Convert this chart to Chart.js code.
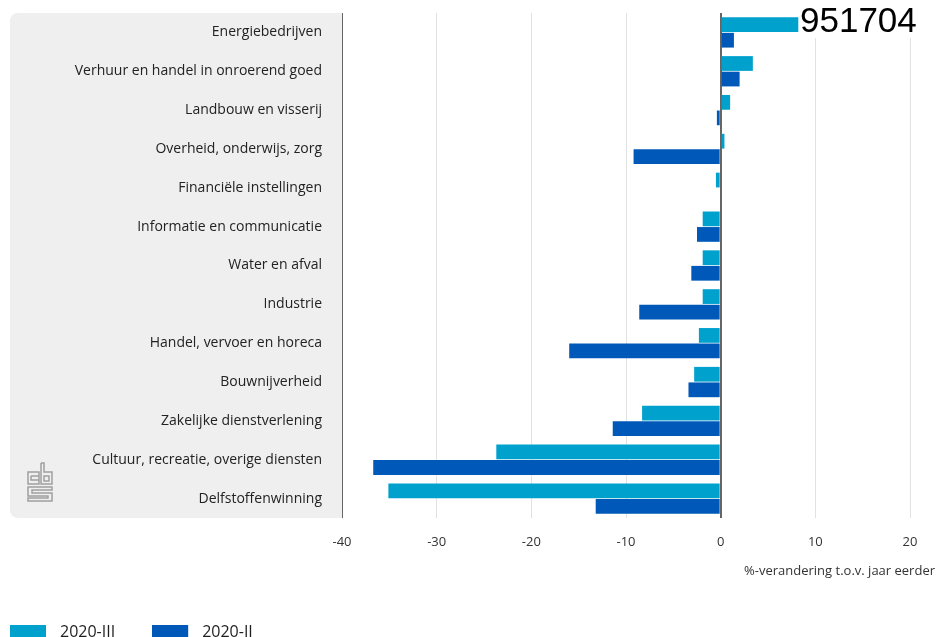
<!DOCTYPE html>
<html>
<head>
<meta charset="utf-8">
<script src="https://cdn.jsdelivr.net/npm/chart.js@4"></script>
<style>
  html, body { margin: 0; padding: 0; background: #fff; overflow: hidden; }
  #wrap { width: 938px; height: 650px; }
</style>
</head>
<body>
<div id="wrap"><canvas id="bedrijfstakken"></canvas></div>
<script>
const categories = [
    'Energiebedrijven',
    'Verhuur en handel in onroerend goed',
    'Landbouw en visserij',
    'Overheid, onderwijs, zorg',
    'Financiële instellingen',
    'Informatie en communicatie',
    'Water en afval',
    'Industrie',
    'Handel, vervoer en horeca',
    'Bouwnijverheid',
    'Zakelijke dienstverlening',
    'Cultuur, recreatie, overige diensten',
    'Delfstoffenwinning'
]
const q2020III = [8.2, 3.4, 1.0, 0.4, -0.5, -1.9, -1.9, -1.9, -2.3, -2.8, -8.3, -23.7, -35.1]
const q2020II = [1.4, 2.0, -0.4, -9.2, 0, -2.5, -3.1, -8.6, -16.0, -3.4, -11.4, -36.7, -13.2]
const xTicks = [-40, -30, -20, -10, 0, 10, 20]

const kleurIII = '#00a1cd'
const kleurII = '#0058b8'
const fontFamily = '"Open Sans", "DejaVu Sans", sans-serif'

// legendablokje 36x14 met wat lucht rechts ervan
function swatch(color) {
    const c = document.createElement('canvas')
    c.width = 42
    c.height = 14
    const g = c.getContext('2d')
    g.fillStyle = color
    g.fillRect(0, 0, 36, 14)
    return c
}
const swatches = [swatch(kleurIII), swatch(kleurII)]

// grijs paneel achter de categorieën + logo, tekst rechtsboven
const decoratie = {
    id: 'decoratie',
    afterLayout(chart) {
        chart.legend.left = -27
    },
    beforeDraw(chart) {
        const ctx = chart.ctx
        const area = chart.chartArea
        ctx.save()
        ctx.fillStyle = '#efefef'
        ctx.beginPath()
        ctx.roundRect(10, area.top, area.left - 10, area.bottom - area.top, [8, 0, 0, 8])
        ctx.fill()

        // cbs logo (ruwe schets)
        ctx.strokeStyle = '#a0a0a0'
        ctx.lineWidth = 1.5
        ctx.beginPath()
        // c
        ctx.rect(28, 472, 11, 12)
        ctx.moveTo(31, 476); ctx.lineTo(39, 476); ctx.moveTo(31, 476); ctx.lineTo(31, 480); ctx.lineTo(39, 480)
        // b
        ctx.moveTo(41, 463); ctx.lineTo(41, 484); ctx.lineTo(52, 484); ctx.lineTo(52, 472); ctx.lineTo(44, 472); ctx.lineTo(44, 463); ctx.lineTo(41, 463)
        ctx.rect(44, 476, 5, 5)
        // s
        ctx.moveTo(52, 487); ctx.lineTo(28, 487); ctx.lineTo(28, 496); ctx.lineTo(48, 496); ctx.lineTo(48, 498); ctx.lineTo(28, 498); ctx.lineTo(28, 501); ctx.lineTo(52, 501); ctx.lineTo(52, 493); ctx.lineTo(32, 493); ctx.lineTo(32, 490); ctx.lineTo(52, 490); ctx.closePath()
        ctx.stroke()
        ctx.restore()
    },
    afterDraw(chart) {
        const ctx = chart.ctx
        ctx.save()
        ctx.fillStyle = '#333'
        ctx.font = '13px ' + fontFamily
        ctx.textAlign = 'right'
        ctx.textBaseline = 'middle'
        ctx.fillText('%-verandering t.o.v. jaar eerder', 935, 571)

        ctx.fillStyle = '#fff'
        ctx.fillRect(799, 0, 125, 38)
        ctx.fillStyle = '#000'
        ctx.font = '35px "Liberation Sans", Arial, sans-serif'
        ctx.textAlign = 'left'
        ctx.textBaseline = 'alphabetic'
        ctx.fillText('951704', 800, 32)
        ctx.restore()
    }
}

new Chart(document.getElementById('bedrijfstakken'), {
    type: 'bar',
    data: {
        labels: categories,
        datasets: [
            {
                label: '2020-III',
                data: q2020III,
                backgroundColor: kleurIII,
                categoryPercentage: 0.8,
                barPercentage: 0.95
            },
            {
                label: '2020-II',
                data: q2020II,
                backgroundColor: kleurII,
                categoryPercentage: 0.8,
                barPercentage: 0.95
            }
        ]
    },
    options: {
        indexAxis: 'y',
        responsive: true,
        maintainAspectRatio: false,
        animation: false,
        layout: { padding: { top: 13, left: 0, right: 28, bottom: 0 } },
        plugins: {
            tooltip: { enabled: false },
            legend: {
                position: 'bottom',
                align: 'start',
                labels: {
                    usePointStyle: true,
                    pointStyleWidth: 42,
                    boxHeight: 14,
                    padding: 37,
                    color: '#1e1e1e',
                    font: { family: fontFamily, size: 16 },
                    generateLabels(chart) {
                        const items = Chart.defaults.plugins.legend.labels.generateLabels(chart)
                        items.forEach((it, i) => { it.pointStyle = swatches[i] })
                        return items
                    }
                }
            }
        },
        scales: {
            x: {
                min: -40,
                max: 20,
                afterBuildTicks(scale) {
                    scale.ticks = xTicks.map(v => ({ value: v }))
                },
                afterFit(scale) { scale.height = 69 },
                grid: {
                    drawTicks: false,
                    color: ctx => (ctx.tick && (ctx.tick.value === 0 || ctx.tick.value === -40)) ? '#666' : '#e2e2e2',
                    lineWidth: ctx => (ctx.tick && ctx.tick.value === 0) ? 2 : 1
                },
                border: { display: false },
                ticks: {
                    padding: 16,
                    color: '#333',
                    font: { family: fontFamily, size: 13 }
                }
            },
            y: {
                afterFit(scale) {
                    scale.width = 342
                    scale.paddingTop = 0
                    scale.paddingBottom = 0
                },
                grid: { display: false, drawTicks: false },
                border: { display: false },
                ticks: {
                    padding: 20,
                    color: '#222',
                    font: { family: fontFamily, size: 14 }
                }
            }
        }
    },
    plugins: [decoratie]
})
</script>
</body>
</html>
